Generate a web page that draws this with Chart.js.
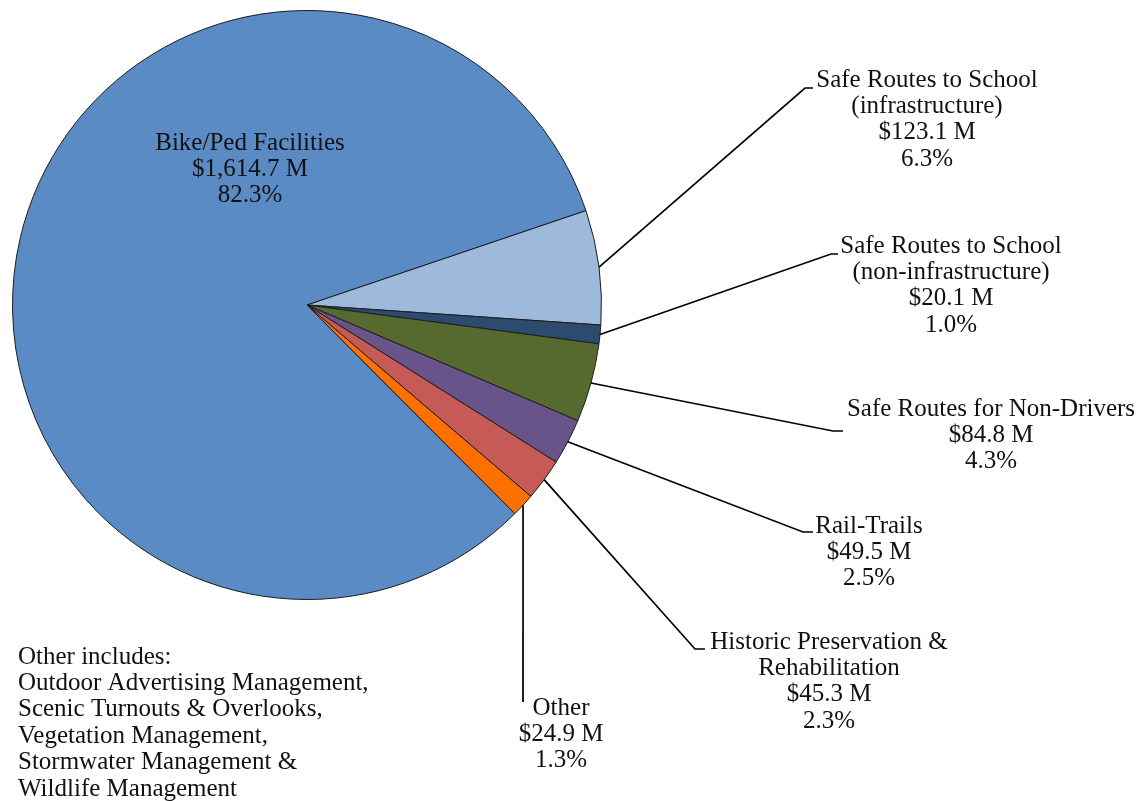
<!DOCTYPE html>
<html>
<head>
<meta charset="utf-8">
<title>Transportation Enhancements funding by category</title>
<script src="https://cdn.jsdelivr.net/npm/chart.js@4/dist/chart.umd.min.js"></script>
<style>
  html, body { margin: 0; padding: 0; background: #ffffff; }
  #wrap { width: 1142px; height: 801px; position: relative; }
</style>
</head>
<body>
<div id="wrap"><canvas id="pie" width="1142" height="801"></canvas></div>
<script>
// Funding categories (each entry is the label split into its printed lines)
const categories = [
  ['Bike/Ped Facilities'],
  ['Safe Routes to School', '(infrastructure)'],
  ['Safe Routes to School', '(non-infrastructure)'],
  ['Safe Routes for Non-Drivers'],
  ['Rail-Trails'],
  ['Historic Preservation &', 'Rehabilitation'],
  ['Other']
];
// Amounts in millions of dollars
const amounts = [1614.7, 123.1, 20.1, 84.8, 49.5, 45.3, 24.9];
const sliceColors = ['#5a8bc4', '#9dbadc', '#2c4b6f', '#566a2f', '#695489', '#c65a56', '#ff7000'];

const otherNote = [
  'Other includes:',
  'Outdoor Advertising Management,',
  'Scenic Turnouts & Overlooks,',
  'Vegetation Management,',
  'Stormwater Management &',
  'Wildlife Management'
];

// Where each label block sits: text centre x, first-line y, and leader knee/tail
const labelPlacement = [
  { cx: 250, y: 143, inside: true },
  { cx: 927, y: 80,  knee: [805, 88],  tail: [813, 88] },
  { cx: 951, y: 246, knee: [831, 254], tail: [838, 254] },
  { cx: 991, y: 409, knee: [833, 431], tail: [843, 431] },
  { cx: 869, y: 526, knee: [803, 532], tail: [813, 532] },
  { cx: 829, y: 642, knee: [695, 649], tail: [705, 649] },
  { cx: 561, y: 708, knee: [523, 702], tail: [523, 702] }
];

const FONT = '25px "Liberation Serif", "Times New Roman", serif';
const LINE_H = 26.4;
const total = amounts.reduce((a, b) => a + b, 0);

function money(v) {
  return '$' + v.toLocaleString('en-US', { minimumFractionDigits: 1, maximumFractionDigits: 1 }) + ' M';
}
function pct(v) {
  return (v / total * 100).toFixed(1) + '%';
}

const calloutPlugin = {
  id: 'callouts',
  afterDatasetsDraw(chart) {
    const ctx = chart.ctx;
    const arcs = chart.getDatasetMeta(0).data;
    ctx.save();
    ctx.font = FONT;
    ctx.fillStyle = '#111111';
    ctx.textAlign = 'center';
    ctx.textBaseline = 'middle';
    arcs.forEach((arc, i) => {
      const p = labelPlacement[i];
      const lines = categories[i].concat([money(amounts[i]), pct(amounts[i])]);
      if (!p.inside) {
        const mid = (arc.startAngle + arc.endAngle) / 2;
        const sx = arc.x + Math.cos(mid) * arc.outerRadius;
        const sy = arc.y + Math.sin(mid) * arc.outerRadius;
        ctx.beginPath();
        ctx.strokeStyle = '#000000';
        ctx.lineWidth = 1.7;
        ctx.moveTo(sx, sy);
        ctx.lineTo(p.knee[0], p.knee[1]);
        ctx.lineTo(p.tail[0], p.tail[1]);
        ctx.stroke();
      }
      lines.forEach((t, k) => ctx.fillText(t, p.cx, p.y + k * LINE_H));
    });
    // note listing what "Other" covers
    ctx.textAlign = 'left';
    otherNote.forEach((t, k) => ctx.fillText(t, 18, 657 + k * 26.4));
    ctx.restore();
  }
};

new Chart(document.getElementById('pie'), {
  type: 'pie',
  data: {
    labels: categories,
    datasets: [{
      data: amounts,
      backgroundColor: sliceColors,
      borderColor: '#1c1c1c',
      borderWidth: 1,
      hoverOffset: 0
    }]
  },
  options: {
    responsive: false,
    animation: false,
    rotation: 135.1,
    layout: { padding: { left: 12, top: 10, right: 540, bottom: 201 } },
    plugins: {
      legend: { display: false },
      tooltip: { enabled: false },
      title: { display: false }
    },
    events: []
  },
  plugins: [calloutPlugin]
});
</script>
</body>
</html>
